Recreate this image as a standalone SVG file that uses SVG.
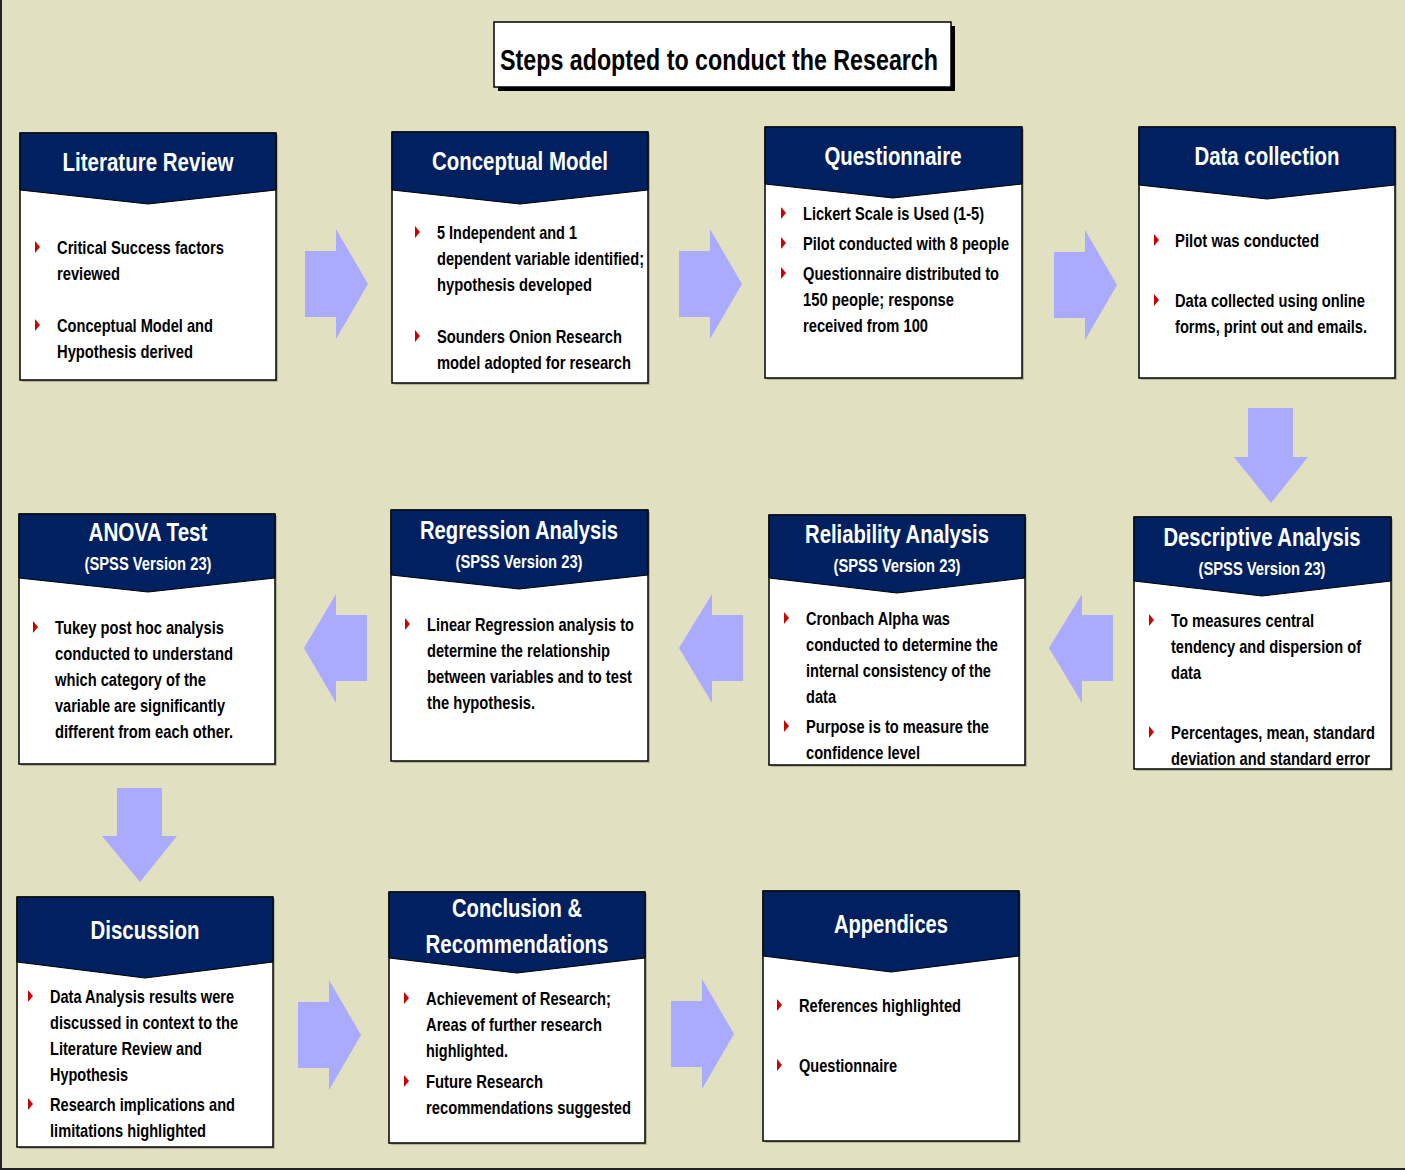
<svg xmlns="http://www.w3.org/2000/svg" width="1405" height="1170" viewBox="0 0 1405 1170">
<style>
.box{fill:#fff;stroke:#000;stroke-width:1.5}
.sh{fill:#8a8a78;opacity:0.5}
.hd{fill:#002060;stroke:#000;stroke-width:1}
.ht{font-family:"Liberation Sans",Arial,sans-serif;font-weight:bold;font-size:26px;fill:#fff;text-anchor:middle}
.hs{font-family:"Liberation Sans",Arial,sans-serif;font-weight:bold;font-size:19px;fill:#fff;text-anchor:middle}
.bt{font-family:"Liberation Sans",Arial,sans-serif;font-weight:bold;font-size:19px;fill:#000}
.ar{fill:#AAAAFF}
.bul{fill:#CC0000}
</style>
<defs>
<path id="b" d="M0,-6 L5,0 L0,6Z"/>
</defs>
<rect x="0" y="0" width="1405" height="1170" fill="#E1E0C0"/>
<rect x="0" y="0" width="2" height="1170" fill="#222"/>
<rect x="0" y="1168" width="1405" height="2" fill="#222"/>

<g id="title">
<rect x="498" y="26" width="457" height="65" fill="#000"/>
<rect x="494" y="22" width="457" height="65" fill="#fff" stroke="#000" stroke-width="1.5"/>
<text x="719" y="70" font-family="Liberation Sans,Arial,sans-serif" font-weight="bold" font-size="29px" text-anchor="middle" fill="#000" textLength="438" lengthAdjust="spacingAndGlyphs">Steps adopted to conduct the Research</text>
</g>

<g id="connectors">
<path class="ar" d="M305,251 H336 V229 L368,284 L336,339 V317 H305Z"/>
<path class="ar" d="M679,251 H710 V229 L742,284 L710,339 V317 H679Z"/>
<path class="ar" d="M1054,252 H1085 V230 L1117,285 L1085,340 V318 H1054Z"/>
<path class="ar" d="M1248,408 H1293 V457 H1308 L1271,503 L1234,457 H1248Z"/>
<path class="ar" d="M1113,615 H1082 V594 L1049,648 L1082,703 V681 H1113Z"/>
<path class="ar" d="M743,615 H712 V594 L679,648 L712,703 V681 H743Z"/>
<path class="ar" d="M367,615 H336 V594 L304,648 L336,703 V681 H367Z"/>
<path class="ar" d="M117,788 H162 V836 H177 L140,882 L102,836 H117Z"/>
<path class="ar" d="M298,1002 H329 V980 L361,1035 L329,1090 V1068 H298Z"/>
<path class="ar" d="M671,1001 H702 V979 L734,1034 L702,1089 V1067 H671Z"/>
</g>

<g id="n1">
<rect class="sh" x="22" y="135" width="256" height="247"/>
<rect class="box" x="20" y="133" width="256" height="247"/>
<path class="hd" d="M20,133 H276 V190 L148,204 L20,190Z"/>
<text class="ht" x="148" y="171" textLength="171" lengthAdjust="spacingAndGlyphs">Literature Review</text>
<use href="#b" class="bul" x="35" y="247"/>
<text class="bt" x="57" y="254" textLength="167" lengthAdjust="spacingAndGlyphs">Critical Success factors</text>
<text class="bt" x="57" y="280" textLength="63" lengthAdjust="spacingAndGlyphs">reviewed</text>
<use href="#b" class="bul" x="35" y="325"/>
<text class="bt" x="57" y="332" textLength="156" lengthAdjust="spacingAndGlyphs">Conceptual Model and</text>
<text class="bt" x="57" y="358" textLength="136" lengthAdjust="spacingAndGlyphs">Hypothesis derived</text>
</g>

<g id="n2">
<rect class="sh" x="394" y="134" width="256" height="251"/>
<rect class="box" x="392" y="132" width="256" height="251"/>
<path class="hd" d="M392,132 H648 V190 L520,204 L392,190Z"/>
<text class="ht" x="520" y="170" textLength="176" lengthAdjust="spacingAndGlyphs">Conceptual Model</text>
<use href="#b" class="bul" x="415" y="232"/>
<text class="bt" x="437" y="239" textLength="140" lengthAdjust="spacingAndGlyphs">5 Independent and 1</text>
<text class="bt" x="437" y="265" textLength="207" lengthAdjust="spacingAndGlyphs">dependent variable identified;</text>
<text class="bt" x="437" y="291" textLength="155" lengthAdjust="spacingAndGlyphs">hypothesis developed</text>
<use href="#b" class="bul" x="415" y="336"/>
<text class="bt" x="437" y="343" textLength="185" lengthAdjust="spacingAndGlyphs">Sounders Onion Research</text>
<text class="bt" x="437" y="369" textLength="194" lengthAdjust="spacingAndGlyphs">model adopted for research</text>
</g>

<g id="n3">
<rect class="sh" x="767" y="129" width="257" height="251"/>
<rect class="box" x="765" y="127" width="257" height="251"/>
<path class="hd" d="M765,127 H1022 V184 L893,198 L765,184Z"/>
<text class="ht" x="893" y="165" textLength="137" lengthAdjust="spacingAndGlyphs">Questionnaire</text>
<use href="#b" class="bul" x="781" y="213"/>
<text class="bt" x="803" y="220" textLength="181" lengthAdjust="spacingAndGlyphs">Lickert Scale is Used (1-5)</text>
<use href="#b" class="bul" x="781" y="243"/>
<text class="bt" x="803" y="250" textLength="206" lengthAdjust="spacingAndGlyphs">Pilot conducted with 8 people</text>
<use href="#b" class="bul" x="781" y="273"/>
<text class="bt" x="803" y="280" textLength="196" lengthAdjust="spacingAndGlyphs">Questionnaire distributed to</text>
<text class="bt" x="803" y="306" textLength="151" lengthAdjust="spacingAndGlyphs">150 people; response</text>
<text class="bt" x="803" y="332" textLength="125" lengthAdjust="spacingAndGlyphs">received from 100</text>
</g>

<g id="n4">
<rect class="sh" x="1141" y="129" width="256" height="251"/>
<rect class="box" x="1139" y="127" width="256" height="251"/>
<path class="hd" d="M1139,127 H1395 V185 L1267,199 L1139,185Z"/>
<text class="ht" x="1267" y="165" textLength="145" lengthAdjust="spacingAndGlyphs">Data collection</text>
<use href="#b" class="bul" x="1154" y="240"/>
<text class="bt" x="1175" y="247" textLength="144" lengthAdjust="spacingAndGlyphs">Pilot was conducted</text>
<use href="#b" class="bul" x="1154" y="300"/>
<text class="bt" x="1175" y="307" textLength="190" lengthAdjust="spacingAndGlyphs">Data collected using online</text>
<text class="bt" x="1175" y="333" textLength="192" lengthAdjust="spacingAndGlyphs">forms, print out and emails.</text>
</g>

<g id="n5">
<rect class="sh" x="21" y="516" width="256" height="250"/>
<rect class="box" x="19" y="514" width="256" height="250"/>
<path class="hd" d="M19,514 H275 V578 L148,592 L19,578Z"/>
<text class="ht" x="148" y="541" textLength="119" lengthAdjust="spacingAndGlyphs">ANOVA  Test</text>
<text class="hs" x="148" y="570" textLength="127" lengthAdjust="spacingAndGlyphs">(SPSS Version 23)</text>
<use href="#b" class="bul" x="33" y="627"/>
<text class="bt" x="55" y="634" textLength="169" lengthAdjust="spacingAndGlyphs">Tukey post hoc analysis</text>
<text class="bt" x="55" y="660" textLength="178" lengthAdjust="spacingAndGlyphs">conducted to understand</text>
<text class="bt" x="55" y="686" textLength="151" lengthAdjust="spacingAndGlyphs">which  category of the</text>
<text class="bt" x="55" y="712" textLength="170" lengthAdjust="spacingAndGlyphs">variable are significantly</text>
<text class="bt" x="55" y="738" textLength="178" lengthAdjust="spacingAndGlyphs">different from each other.</text>
</g>

<g id="n6">
<rect class="sh" x="393" y="512" width="257" height="251"/>
<rect class="box" x="391" y="510" width="257" height="251"/>
<path class="hd" d="M391,510 H648 V575 L519,589 L391,575Z"/>
<text class="ht" x="519" y="539" textLength="198" lengthAdjust="spacingAndGlyphs">Regression Analysis</text>
<text class="hs" x="519" y="568" textLength="127" lengthAdjust="spacingAndGlyphs">(SPSS Version 23)</text>
<use href="#b" class="bul" x="405" y="624"/>
<text class="bt" x="427" y="631" textLength="207" lengthAdjust="spacingAndGlyphs">Linear Regression analysis to</text>
<text class="bt" x="427" y="657" textLength="183" lengthAdjust="spacingAndGlyphs">determine the relationship</text>
<text class="bt" x="427" y="683" textLength="205" lengthAdjust="spacingAndGlyphs">between variables and to test</text>
<text class="bt" x="427" y="709" textLength="108" lengthAdjust="spacingAndGlyphs">the hypothesis.</text>
</g>

<g id="n7">
<rect class="sh" x="771" y="517" width="256" height="250"/>
<rect class="box" x="769" y="515" width="256" height="250"/>
<path class="hd" d="M769,515 H1025 V578 L897,593 L769,578Z"/>
<text class="ht" x="897" y="543" textLength="184" lengthAdjust="spacingAndGlyphs">Reliability Analysis</text>
<text class="hs" x="897" y="572" textLength="127" lengthAdjust="spacingAndGlyphs">(SPSS Version 23)</text>
<use href="#b" class="bul" x="784" y="618"/>
<text class="bt" x="806" y="625" textLength="144" lengthAdjust="spacingAndGlyphs">Cronbach Alpha was</text>
<text class="bt" x="806" y="651" textLength="192" lengthAdjust="spacingAndGlyphs">conducted to determine the</text>
<text class="bt" x="806" y="677" textLength="185" lengthAdjust="spacingAndGlyphs">internal consistency of the</text>
<text class="bt" x="806" y="703" textLength="30" lengthAdjust="spacingAndGlyphs">data</text>
<use href="#b" class="bul" x="784" y="726"/>
<text class="bt" x="806" y="733" textLength="183" lengthAdjust="spacingAndGlyphs">Purpose is to measure the</text>
<text class="bt" x="806" y="759" textLength="114" lengthAdjust="spacingAndGlyphs">confidence level</text>
</g>

<g id="n8">
<rect class="sh" x="1136" y="519" width="257" height="252"/>
<rect class="box" x="1134" y="517" width="257" height="252"/>
<path class="hd" d="M1134,517 H1391 V581 L1262,596 L1134,581Z"/>
<text class="ht" x="1262" y="546" textLength="197" lengthAdjust="spacingAndGlyphs">Descriptive Analysis</text>
<text class="hs" x="1262" y="575" textLength="127" lengthAdjust="spacingAndGlyphs">(SPSS Version 23)</text>
<use href="#b" class="bul" x="1149" y="620"/>
<text class="bt" x="1171" y="627" textLength="143" lengthAdjust="spacingAndGlyphs">To measures central</text>
<text class="bt" x="1171" y="653" textLength="190" lengthAdjust="spacingAndGlyphs">tendency and dispersion of</text>
<text class="bt" x="1171" y="679" textLength="30" lengthAdjust="spacingAndGlyphs">data</text>
<use href="#b" class="bul" x="1149" y="732"/>
<text class="bt" x="1171" y="739" textLength="204" lengthAdjust="spacingAndGlyphs">Percentages, mean, standard</text>
<text class="bt" x="1171" y="765" textLength="199" lengthAdjust="spacingAndGlyphs">deviation and standard error</text>
</g>

<g id="n9">
<rect class="sh" x="19" y="899" width="256" height="250"/>
<rect class="box" x="17" y="897" width="256" height="250"/>
<path class="hd" d="M17,897 H273 V962 L145,978 L17,962Z"/>
<text class="ht" x="145" y="939" textLength="109" lengthAdjust="spacingAndGlyphs">Discussion</text>
<use href="#b" class="bul" x="28" y="996"/>
<text class="bt" x="50" y="1003" textLength="184" lengthAdjust="spacingAndGlyphs">Data Analysis results were</text>
<text class="bt" x="50" y="1029" textLength="188" lengthAdjust="spacingAndGlyphs">discussed in context to the</text>
<text class="bt" x="50" y="1055" textLength="152" lengthAdjust="spacingAndGlyphs">Literature Review and</text>
<text class="bt" x="50" y="1081" textLength="78" lengthAdjust="spacingAndGlyphs">Hypothesis</text>
<use href="#b" class="bul" x="28" y="1104"/>
<text class="bt" x="50" y="1111" textLength="185" lengthAdjust="spacingAndGlyphs">Research implications and</text>
<text class="bt" x="50" y="1137" textLength="156" lengthAdjust="spacingAndGlyphs">limitations  highlighted</text>
</g>

<g id="n10">
<rect class="sh" x="391" y="894" width="256" height="251"/>
<rect class="box" x="389" y="892" width="256" height="251"/>
<path class="hd" d="M389,892 H645 V958 L517,973 L389,958Z"/>
<text class="ht" x="517" y="917" textLength="130" lengthAdjust="spacingAndGlyphs">Conclusion &amp;</text>
<text class="ht" x="517" y="953" textLength="183" lengthAdjust="spacingAndGlyphs">Recommendations</text>
<use href="#b" class="bul" x="404" y="998"/>
<text class="bt" x="426" y="1005" textLength="185" lengthAdjust="spacingAndGlyphs">Achievement of Research;</text>
<text class="bt" x="426" y="1031" textLength="176" lengthAdjust="spacingAndGlyphs">Areas of further research</text>
<text class="bt" x="426" y="1057" textLength="82" lengthAdjust="spacingAndGlyphs">highlighted.</text>
<use href="#b" class="bul" x="404" y="1081"/>
<text class="bt" x="426" y="1088" textLength="117" lengthAdjust="spacingAndGlyphs">Future Research</text>
<text class="bt" x="426" y="1114" textLength="205" lengthAdjust="spacingAndGlyphs">recommendations suggested</text>
</g>

<g id="n11">
<rect class="sh" x="765" y="893" width="256" height="250"/>
<rect class="box" x="763" y="891" width="256" height="250"/>
<path class="hd" d="M763,891 H1019 V956 L891,972 L763,956Z"/>
<text class="ht" x="891" y="933" textLength="114" lengthAdjust="spacingAndGlyphs">Appendices</text>
<use href="#b" class="bul" x="777" y="1005"/>
<text class="bt" x="799" y="1012" textLength="162" lengthAdjust="spacingAndGlyphs">References highlighted</text>
<use href="#b" class="bul" x="777" y="1065"/>
<text class="bt" x="799" y="1072" textLength="98" lengthAdjust="spacingAndGlyphs">Questionnaire</text>
</g>
</svg>
